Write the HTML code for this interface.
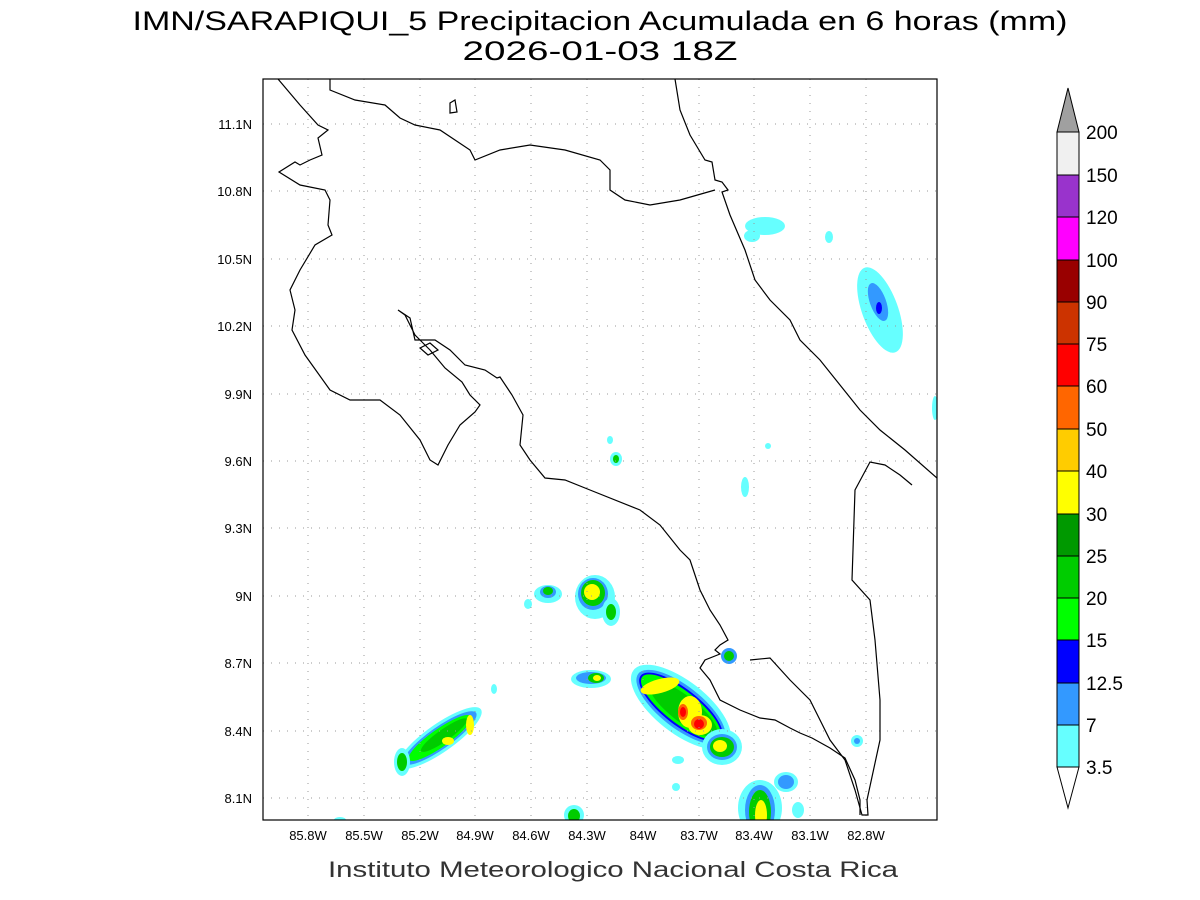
<!DOCTYPE html>
<html><head><meta charset="utf-8"><style>body{margin:0;background:#fff}svg{display:block}</style></head><body>
<svg width="1200" height="900" xmlns="http://www.w3.org/2000/svg" font-family="Liberation Sans, sans-serif">
<rect width="1200" height="900" fill="#fff"/>
<text x="600" y="30" font-size="27" text-anchor="middle" fill="#000" textLength="935" lengthAdjust="spacingAndGlyphs">IMN/SARAPIQUI_5 Precipitacion Acumulada en 6 horas (mm)</text>
<text x="600" y="60" font-size="27" text-anchor="middle" fill="#000" textLength="275" lengthAdjust="spacingAndGlyphs">2026-01-03 18Z</text>
<defs><clipPath id="c"><rect x="263" y="79" width="674" height="741"/></clipPath></defs>
<g clip-path="url(#c)">
<!-- precipitation blobs -->
<g id="blobs">
<!-- NE blob -->
<ellipse cx="880" cy="310" rx="18" ry="45" transform="rotate(-20 880 310)" fill="#66ffff"/>
<ellipse cx="878" cy="302" rx="8" ry="20" transform="rotate(-20 878 302)" fill="#3399ff"/>
<ellipse cx="879" cy="308" rx="3" ry="6" fill="#0000ff"/>
<ellipse cx="765" cy="226" rx="20" ry="9" fill="#66ffff"/>
<ellipse cx="752" cy="236" rx="8" ry="6" fill="#66ffff"/>
<ellipse cx="829" cy="237" rx="4" ry="6" fill="#66ffff"/>
<ellipse cx="935" cy="408" rx="3" ry="12" fill="#66ffff"/>
<ellipse cx="610" cy="440" rx="3" ry="4" fill="#66ffff"/>
<ellipse cx="616" cy="459" rx="6" ry="7" fill="#66ffff"/>
<ellipse cx="616" cy="459" rx="3" ry="4" fill="#00cc00"/>
<ellipse cx="745" cy="487" rx="4" ry="10" fill="#66ffff"/>
<ellipse cx="768" cy="446" rx="3" ry="3" fill="#66ffff"/>
<!-- 9N blobs -->
<ellipse cx="548" cy="594" rx="14" ry="9" fill="#66ffff"/>
<ellipse cx="548" cy="592" rx="8" ry="6" fill="#3399ff"/>
<ellipse cx="548" cy="591" rx="5" ry="4" fill="#00cc00"/>
<ellipse cx="528" cy="604" rx="4" ry="5" fill="#66ffff"/>
<ellipse cx="595" cy="597" rx="20" ry="22" fill="#66ffff"/>
<ellipse cx="593" cy="594" rx="15" ry="16" fill="#3399ff"/>
<ellipse cx="593" cy="593" rx="12" ry="13" fill="#00cc00"/>
<ellipse cx="592" cy="592" rx="8" ry="8" fill="#ffff00"/>
<ellipse cx="611" cy="612" rx="9" ry="14" fill="#66ffff"/>
<ellipse cx="611" cy="612" rx="5" ry="8" fill="#00cc00"/>
<!-- 8.6N -->
<ellipse cx="591" cy="679" rx="20" ry="9" fill="#66ffff"/>
<ellipse cx="591" cy="678" rx="15" ry="6" fill="#3399ff"/>
<ellipse cx="596" cy="678" rx="8" ry="5" fill="#00cc00"/>
<ellipse cx="597" cy="678" rx="4" ry="3" fill="#ffff00"/>
<!-- main cluster -->
<g transform="rotate(38 680 700)">
<ellipse cx="685" cy="705" rx="60" ry="26" fill="#66ffff"/>
<ellipse cx="685" cy="705" rx="54" ry="21" fill="#3399ff"/>
<ellipse cx="685" cy="705" rx="51" ry="18" fill="#0000ff"/>
<ellipse cx="685" cy="705" rx="49" ry="16" fill="#00ff00"/>
<ellipse cx="688" cy="705" rx="42" ry="13" fill="#00cc00"/>
</g>
<ellipse cx="660" cy="686" rx="20" ry="7" transform="rotate(-15 660 686)" fill="#ffff00"/>
<ellipse cx="690" cy="712" rx="12" ry="16" fill="#ffff00"/>
<ellipse cx="700" cy="725" rx="12" ry="10" fill="#ffff00"/>
<ellipse cx="699" cy="723" rx="8" ry="7" fill="#ff6600"/>
<ellipse cx="699" cy="724" rx="5" ry="5" fill="#ff0000"/>
<ellipse cx="683" cy="712" rx="5" ry="8" fill="#ff6600"/>
<ellipse cx="683" cy="712" rx="3" ry="5" fill="#ff0000"/>
<ellipse cx="722" cy="747" rx="20" ry="18" fill="#66ffff"/>
<ellipse cx="722" cy="747" rx="15" ry="13" fill="#3399ff"/>
<ellipse cx="722" cy="747" rx="12" ry="10" fill="#00cc00"/>
<ellipse cx="720" cy="746" rx="7" ry="6" fill="#ffff00"/>
<ellipse cx="729" cy="656" rx="8" ry="8" fill="#3399ff"/>
<ellipse cx="729" cy="656" rx="5" ry="5" fill="#00cc00"/>
<!-- bottom right -->
<ellipse cx="760" cy="808" rx="22" ry="28" fill="#66ffff"/>
<ellipse cx="760" cy="810" rx="15" ry="25" fill="#3399ff"/>
<ellipse cx="760" cy="812" rx="11" ry="22" fill="#00cc00"/>
<ellipse cx="761" cy="815" rx="6" ry="15" fill="#ffff00"/>
<ellipse cx="786" cy="782" rx="12" ry="10" fill="#66ffff"/>
<ellipse cx="786" cy="782" rx="8" ry="7" fill="#3399ff"/>
<ellipse cx="798" cy="810" rx="6" ry="8" fill="#66ffff"/>
<ellipse cx="678" cy="760" rx="6" ry="4" fill="#66ffff"/>
<ellipse cx="676" cy="787" rx="4" ry="4" fill="#66ffff"/>
<ellipse cx="857" cy="741" rx="6" ry="6" fill="#66ffff"/>
<ellipse cx="857" cy="741" rx="3" ry="3" fill="#3399ff"/>
<!-- SW cluster -->
<g transform="rotate(-35 440 738)">
<ellipse cx="440" cy="738" rx="50" ry="14" fill="#66ffff"/>
<ellipse cx="440" cy="738" rx="44" ry="11" fill="#3399ff"/>
<ellipse cx="440" cy="738" rx="38" ry="9" fill="#00ff00"/>
<ellipse cx="445" cy="738" rx="28" ry="6" fill="#00cc00"/>
</g>
<ellipse cx="402" cy="762" rx="8" ry="14" fill="#66ffff"/>
<ellipse cx="402" cy="762" rx="5" ry="9" fill="#00cc00"/>
<ellipse cx="470" cy="725" rx="4" ry="10" fill="#ffff00"/>
<ellipse cx="448" cy="741" rx="6" ry="4" fill="#ffff00"/>
<ellipse cx="494" cy="689" rx="3" ry="5" fill="#66ffff"/>
<ellipse cx="574" cy="815" rx="10" ry="10" fill="#66ffff"/>
<ellipse cx="574" cy="816" rx="6" ry="7" fill="#00cc00"/>
<ellipse cx="340" cy="820" rx="6" ry="3" fill="#66ffff"/>
</g>
</g>
<!-- grid -->
<g stroke="#999" stroke-width="1" stroke-dasharray="1,7">
<line x1="308" y1="79" x2="308" y2="820"/><line x1="364" y1="79" x2="364" y2="820"/><line x1="420" y1="79" x2="420" y2="820"/><line x1="475" y1="79" x2="475" y2="820"/><line x1="531" y1="79" x2="531" y2="820"/><line x1="587" y1="79" x2="587" y2="820"/><line x1="643" y1="79" x2="643" y2="820"/><line x1="699" y1="79" x2="699" y2="820"/><line x1="754" y1="79" x2="754" y2="820"/><line x1="810" y1="79" x2="810" y2="820"/><line x1="866" y1="79" x2="866" y2="820"/>
<line x1="263" y1="124" x2="937" y2="124"/><line x1="263" y1="191" x2="937" y2="191"/><line x1="263" y1="259" x2="937" y2="259"/><line x1="263" y1="326" x2="937" y2="326"/><line x1="263" y1="394" x2="937" y2="394"/><line x1="263" y1="461" x2="937" y2="461"/><line x1="263" y1="528" x2="937" y2="528"/><line x1="263" y1="596" x2="937" y2="596"/><line x1="263" y1="663" x2="937" y2="663"/><line x1="263" y1="731" x2="937" y2="731"/><line x1="263" y1="798" x2="937" y2="798"/>
</g>
<!-- coastlines -->
<g fill="none" stroke="#000" stroke-width="1.2" clip-path="url(#c)">
<polyline points="278,79 300,105 318,125 328,130 318,138 322,155 310,160 300,165 295,162 279,172 300,185 325,190 330,200 328,225 332,235 315,245 300,270 290,290 295,310 292,330 305,355 330,390 350,400 380,400 400,415 420,440 430,460 438,465 448,445 460,425 475,412 480,405 470,395 462,382 445,368 430,350 415,335 405,315 398,310 410,318 415,340 435,340 450,350 465,365 485,370 497,378 500,377 512,395 523,415 520,445 530,460 545,478 565,480 590,490 640,510 660,525 680,550 690,560 700,590 710,610 720,625 728,640 720,645 715,650 720,654 705,660 700,668 710,680 720,700 740,710 760,718 775,720 790,728 800,733 812,738 830,748 845,758 855,780 860,800 860,815"/>
<polygon points="420,348 430,343 438,350 428,355"/>
<polygon points="450,103 455,100 457,112 450,113"/>
<polyline points="330,79 330,90 355,100 385,105 400,118 415,125 440,130 470,150 475,160 500,150 530,145 565,150 600,160 610,170 610,190 625,200 650,205 680,200 715,190"/>
<polyline points="675,79 680,110 690,135 705,160 712,162 715,180 722,182 728,190 722,192 730,215 745,250 755,280 770,300 790,320 800,340 820,360 840,385 860,410 880,430 905,450 937,478"/>
<polyline points="750,660 770,658 790,680 800,690 810,700 820,720 830,740 845,760 855,790 862,815 868,815 867,800 880,740 880,700 875,640 870,600 852,580 855,490 870,462 885,465 900,475 912,485"/>
</g>
<rect x="263" y="79" width="674" height="741" fill="none" stroke="#000" stroke-width="1.2"/>
<!-- tick labels -->
<g font-size="13" fill="#000" text-anchor="middle">
<text x="308" y="840">85.8W</text><text x="364" y="840">85.5W</text><text x="420" y="840">85.2W</text><text x="475" y="840">84.9W</text><text x="531" y="840">84.6W</text><text x="587" y="840">84.3W</text><text x="643" y="840">84W</text><text x="699" y="840">83.7W</text><text x="754" y="840">83.4W</text><text x="810" y="840">83.1W</text><text x="866" y="840">82.8W</text>
</g>
<g font-size="13" fill="#000" text-anchor="end">
<text x="252" y="129">11.1N</text><text x="252" y="196">10.8N</text><text x="252" y="264">10.5N</text><text x="252" y="331">10.2N</text><text x="252" y="399">9.9N</text><text x="252" y="466">9.6N</text><text x="252" y="533">9.3N</text><text x="252" y="601">9N</text><text x="252" y="668">8.7N</text><text x="252" y="736">8.4N</text><text x="252" y="803">8.1N</text>
</g>
<text x="613" y="877" font-size="22" text-anchor="middle" fill="#333" textLength="570" lengthAdjust="spacingAndGlyphs">Instituto Meteorologico Nacional Costa Rica</text>
<!-- colorbar -->
<g stroke="#000" stroke-width="1">
<polygon points="1057,132 1079,132 1068,88" fill="#a0a0a0"/>
<rect x="1057" y="132" width="22" height="43" fill="#f0f0f0"/>
<rect x="1057" y="175" width="22" height="42" fill="#9933cc"/>
<rect x="1057" y="217" width="22" height="43" fill="#ff00ff"/>
<rect x="1057" y="260" width="22" height="42" fill="#990000"/>
<rect x="1057" y="302" width="22" height="42" fill="#cc3300"/>
<rect x="1057" y="344" width="22" height="42" fill="#ff0000"/>
<rect x="1057" y="386" width="22" height="43" fill="#ff6600"/>
<rect x="1057" y="429" width="22" height="42" fill="#ffcc00"/>
<rect x="1057" y="471" width="22" height="43" fill="#ffff00"/>
<rect x="1057" y="514" width="22" height="42" fill="#009900"/>
<rect x="1057" y="556" width="22" height="42" fill="#00cc00"/>
<rect x="1057" y="598" width="22" height="42" fill="#00ff00"/>
<rect x="1057" y="640" width="22" height="43" fill="#0000ff"/>
<rect x="1057" y="683" width="22" height="42" fill="#3399ff"/>
<rect x="1057" y="725" width="22" height="42" fill="#66ffff"/>
<polygon points="1057,767 1079,767 1068,808" fill="#fff"/>
</g>
<g font-size="19" fill="#000">
<text x="1086" y="139">200</text><text x="1086" y="182">150</text><text x="1086" y="224">120</text><text x="1086" y="267">100</text><text x="1086" y="309">90</text><text x="1086" y="351">75</text><text x="1086" y="393">60</text><text x="1086" y="436">50</text><text x="1086" y="478">40</text><text x="1086" y="521">30</text><text x="1086" y="563">25</text><text x="1086" y="605">20</text><text x="1086" y="647">15</text><text x="1086" y="690">12.5</text><text x="1086" y="732">7</text><text x="1086" y="774">3.5</text>
</g>
</svg>
</body></html>
